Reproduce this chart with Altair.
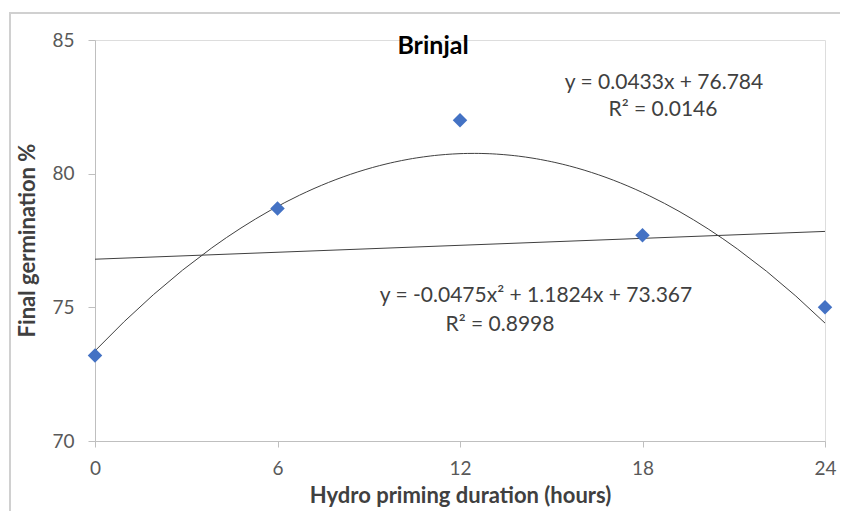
import altair as alt
import pandas as pd

# data
hours = [0, 6, 12, 18, 24]
germination = [73.2, 78.7, 82.0, 77.7, 75.0]

x_ticks = [0, 6, 12, 18, 24]
y_ticks = [70, 75, 80, 85]

chart_title = "Brinjal"
eq_linear = "y = 0.0433x + 76.784"
r2_linear = "R² = 0.0146"
eq_poly = "y = -0.0475x² + 1.1824x + 73.367"
r2_poly = "R² = 0.8998"

df = pd.DataFrame({"hours": hours, "germination": germination})

FONT = "Lato"
W, H = 730, 401

xscale = alt.Scale(domain=[0, 24], nice=False)
yscale = alt.Scale(domain=[70, 85], nice=False, zero=False)

xaxis = alt.Axis(
    values=x_ticks, title="Hydro priming duration (hours)", grid=False,
    domainColor="#bfbfbf", tickColor="#bfbfbf", tickSize=6, labelFlush=False,
    labelFont=FONT, labelFontSize=19, labelColor="#595959", labelPadding=12,
    titleFont=FONT, titleFontSize=22, titleFontWeight="bold", titleColor="#404040",
    titleY=44, titleBaseline="top",
)
yaxis = alt.Axis(
    values=y_ticks, title="Final germination %", grid=False,
    domainColor="#bfbfbf", tickColor="#bfbfbf", tickSize=7, labelFlush=False,
    labelFont=FONT, labelFontSize=19, labelColor="#595959", labelPadding=14,
    titleFont=FONT, titleFontSize=22, titleFontWeight="bold", titleColor="#404040",
    titleX=-56, titleY=200, titleAngle=-90, titleBaseline="bottom", titleAlign="center",
)

base = alt.Chart(df)

border = base.mark_rect(fill=None, stroke="#d0d0d0", strokeWidth=1.5).encode(
    x=alt.value(-85), x2=alt.value(760), y=alt.value(-27), y2=alt.value(490)
)

lin = base.transform_regression("hours", "germination", method="linear").mark_line(
    color="#404040", strokeWidth=1
).encode(x=alt.X("hours:Q", scale=xscale, axis=xaxis), y=alt.Y("germination:Q", scale=yscale, axis=yaxis))

poly = base.transform_regression("hours", "germination", method="poly", order=2).mark_line(
    color="#404040", strokeWidth=1
).encode(x=alt.X("hours:Q", scale=xscale), y=alt.Y("germination:Q", scale=yscale))

pts = base.mark_point(shape="diamond", filled=True, color="#4472C4", size=210, opacity=1).encode(
    x=alt.X("hours:Q", scale=xscale), y=alt.Y("germination:Q", scale=yscale)
)

def label(text, px, py, size=21, weight="normal", color="#404040"):
    return alt.Chart(pd.DataFrame({"t": [text]})).mark_text(
        font=FONT, fontSize=size, fontWeight=weight, color=color, align="center", baseline="middle"
    ).encode(text="t:N", x=alt.value(px), y=alt.value(py))

texts = (
    label(chart_title, 338, 6, size=25, weight="bold", color="#000000")
    + label(eq_linear, 569, 43)
    + label(r2_linear, 568, 70)
    + label(eq_poly, 441, 256)
    + label(r2_poly, 405, 285)
)

chart = alt.layer(border, lin, poly, pts, texts).properties(
    width=W, height=H,
    autosize=alt.AutoSizeParams(type="none"),
    padding={"left": 87, "top": 32, "right": 15, "bottom": 70},
).configure_view(stroke=None).configure(background="white")

chart.save("out.html", embed_options={"renderer": "svg", "actions": False})
